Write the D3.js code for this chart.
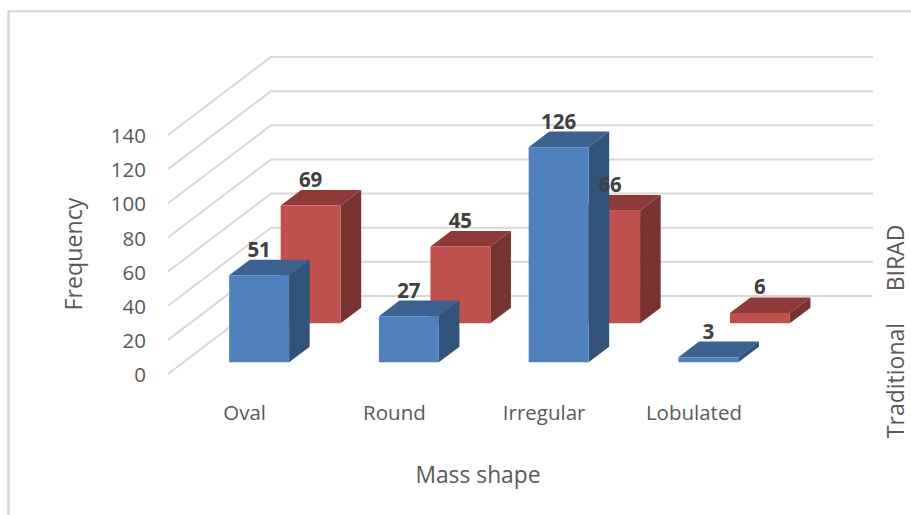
<!DOCTYPE html>
<html>
<head>
<meta charset="utf-8">
<style>
  html, body { margin: 0; padding: 0; background: #fff; }
  svg { display: block; }
  text { font-family: "Open Sans", sans-serif; }
</style>
<script src="https://cdn.jsdelivr.net/npm/d3@7/dist/d3.min.js"></script>
</head>
<body>
<svg id="chart" width="911" height="515"></svg>
<script>
const categories = ["Oval", "Round", "Irregular", "Lobulated"];
const seriesNames = ["Traditional", "BIRAD"];
const traditionalValues = [51, 27, 126, 3];
const biradValues = [69, 45, 66, 6];
const yTicks = [0, 20, 40, 60, 80, 100, 120, 140];

const seriesValues = [traditionalValues, biradValues];
const fills = [
  { front: "#4f81bd", top: "#3c6291", side: "#325379" },
  { front: "#c0504d", top: "#8e3a38", side: "#783230" }
];

const svg = d3.select("#chart");

// Oblique projection: depth runs up and to the right of the floor's front edge.
const floorLeft = 168;
const depthX = 103, depthY = 78;
const x = d3.scaleBand().domain(categories).range([168.8, 767.8]).paddingInner(0.6).paddingOuter(0.3);
const y = d3.scaleLinear().domain([0, 140]).range([374, 135]);
const z = d3.scaleBand().domain(seriesNames).range([0, 1]).paddingInner(0.6).paddingOuter(0.3);
const project = (px, value, depth) => [px + depthX * depth, y(value) - depthY * depth];
const line = d3.line();

// Chart frame
svg.append("path")
  .attr("d", "M8.5,515V11.3H911")
  .attr("fill", "none").attr("stroke", "#d9d9d9").attr("stroke-width", 2.6);

// Gridlines across the side wall and the back wall
svg.append("g").selectAll("path").data(yTicks).join("path")
  .attr("d", v => line([project(floorLeft, v, 0), project(floorLeft, v, 1), [873, y(v) - depthY]]))
  .attr("fill", "none").attr("stroke", "#d9d9d9").attr("stroke-width", 2);

// Value axis labels
svg.append("g").selectAll("text").data(yTicks).join("text")
  .attr("x", 146).attr("y", v => y(v) + 1).attr("dy", "0.35em")
  .attr("text-anchor", "end").attr("font-size", 20.5).attr("fill", "#595959")
  .text(d => d);

// Bars, back row first so the front row covers it
const bars = svg.append("g");
[1, 0].forEach(s => {
  const name = seriesNames[s];
  const z0 = z(name), z1 = z0 + z.bandwidth();
  categories.forEach((cat, i) => {
    const v = seriesValues[s][i];
    const x0 = x(cat), x1 = x0 + x.bandwidth();
    const g = bars.append("g");
    const face = (pts, fill) => g.append("path").attr("d", line(pts) + "Z").attr("fill", fill);
    face([project(x0, v, z0), project(x1, v, z0), project(x1, v, z1), project(x0, v, z1)], fills[s].top);
    face([project(x1, 0, z0), project(x1, v, z0), project(x1, v, z1), project(x1, 0, z1)], fills[s].side);
    face([project(x0, 0, z0), project(x1, 0, z0), project(x1, v, z0), project(x0, v, z0)], fills[s].front);
  });
});

// Value labels sit above each bar's top face
const labels = svg.append("g");
[0, 1].forEach(s => {
  const name = seriesNames[s];
  categories.forEach((cat, i) => {
    const v = seriesValues[s][i];
    const [lx, ly] = project(x(cat) + x.bandwidth() / 2, v, z(name) + z.bandwidth());
    labels.append("text")
      .attr("x", lx - depthX * z.bandwidth()).attr("y", ly - 3)
      .attr("text-anchor", "middle").attr("font-size", 20.5).attr("font-weight", 700)
      .attr("fill", "#404040").text(v);
  });
});

// Category labels along the floor
svg.append("g").selectAll("text").data(categories).join("text")
  .attr("x", d => x(d) + x.bandwidth() / 2 + 1).attr("y", 420)
  .attr("text-anchor", "middle").attr("font-size", 20.5).attr("fill", "#595959")
  .text(d => d);

// Axis titles
svg.append("text").attr("x", 478).attr("y", 483)
  .attr("text-anchor", "middle").attr("font-size", 22.8).attr("fill", "#595959").text("Mass shape");
svg.append("text").attr("transform", "translate(82,254) rotate(-90)")
  .attr("text-anchor", "middle").attr("font-size", 23.2).attr("fill", "#595959").text("Frequency");

// Series names along the depth axis
svg.append("text").attr("transform", "translate(904,380.5) rotate(-90)")
  .attr("text-anchor", "middle").attr("font-size", 23).attr("fill", "#595959").text(seriesNames[0]);
svg.append("text").attr("transform", "translate(904,258) rotate(-90)")
  .attr("text-anchor", "middle").attr("font-size", 23).attr("fill", "#595959").text(seriesNames[1]);
</script>
</body>
</html>
